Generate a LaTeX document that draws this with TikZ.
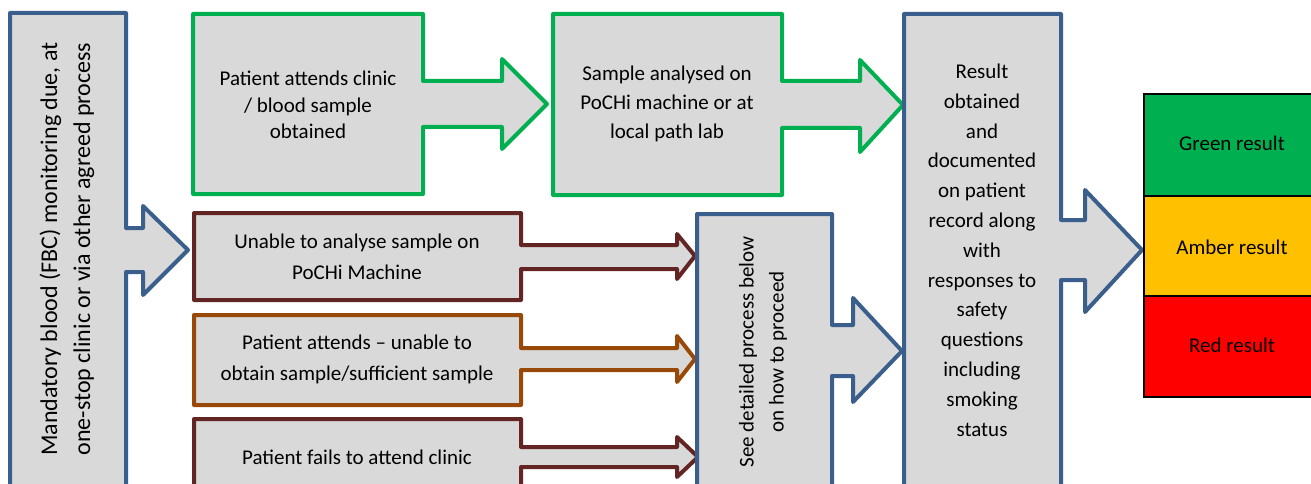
\documentclass[tikz,border=0pt]{standalone}
\usepackage{fontspec}
\setmainfont{Carlito}
\definecolor{bblue}{HTML}{3B5F8C}
\definecolor{bgreen}{HTML}{00B050}
\definecolor{bbrown}{HTML}{632523}
\definecolor{borange}{HTML}{984807}
\definecolor{boxgray}{HTML}{D9D9D9}
\definecolor{resgreen}{HTML}{00B050}
\definecolor{resamber}{HTML}{FFC000}
\definecolor{resred}{HTML}{FF0000}
\tikzset{
  callout/.style={line width=4pt, line join=round, fill=boxgray},
  txt/.style={align=center, text=black, inner sep=0pt},
  resbox/.style={draw=black, line width=2pt},
}
\begin{document}
\begin{tikzpicture}[x=1pt,y=-1pt]
\useasboundingbox (0,0) rectangle (1311,484);
\clip (0,0) rectangle (1311,484);
% left tall box
\draw[callout, draw=bblue] (10,13) -- (126,13) -- (126,228) -- (143,228) -- (143,206) -- (188,250) -- (143,295) -- (143,272) -- (126,272) -- (126,500) -- (10,500) -- cycle;
\node[txt, rotate=90, font=\fontsize{24}{33}\selectfont] (mand) at (67,249) {Mandatory blood (FBC) monitoring due, at\\one-stop clinic or via other agreed process};
% green box 1
\draw[callout, draw=bgreen] (193,14) -- (423,14) -- (423,81) -- (502,81) -- (502,59) -- (547,104) -- (502,149) -- (502,127) -- (423,127) -- (423,194) -- (193,194) -- cycle;
\node[txt, font=\fontsize{21}{26.5}\selectfont] (attend) at (308,105) {Patient attends clinic\\/ blood sample\\obtained};
% green box 2
\draw[callout, draw=bgreen] (553,14) -- (782,14) -- (782,81) -- (860,81) -- (860,60) -- (903,105) -- (860,152) -- (860,128) -- (782,128) -- (782,195) -- (553,195) -- cycle;
\node[txt, font=\fontsize{21}{29}\selectfont] (analysed) at (667,104) {Sample analysed on\\PoCHi machine or at\\local path lab};
% bottom box 1
\draw[callout, draw=bbrown] (194,213) -- (521,213) -- (521,245) -- (677,245) -- (677,234) -- (695,256) -- (677,279) -- (677,269) -- (521,269) -- (521,300) -- (194,300) -- cycle;
\node[txt, font=\fontsize{21}{31}\selectfont] (unable) at (357,256.5) {Unable to analyse sample on\\PoCHi Machine};
% bottom box 2
\draw[callout, draw=borange] (194,315) -- (521,315) -- (521,348) -- (677,348) -- (677,336) -- (695,359) -- (677,382) -- (677,370) -- (521,370) -- (521,405) -- (194,405) -- cycle;
\node[txt, font=\fontsize{21}{31}\selectfont] (nosample) at (357,359.5) {Patient attends -- unable to\\obtain sample/sufficient sample};
% bottom box 3
\draw[callout, draw=bbrown] (194,419) -- (521,419) -- (521,447) -- (677,447) -- (677,437) -- (698,457) -- (677,477) -- (677,467) -- (521,467) -- (521,500) -- (194,500) -- cycle;
\node[txt, font=\fontsize{21}{31}\selectfont] (fails) at (357,457) {Patient fails to attend clinic};
% see detailed box
\draw[callout, draw=bblue] (697,214) -- (832,214) -- (832,325) -- (853,325) -- (853,298) -- (902,351) -- (853,402) -- (853,376) -- (832,376) -- (832,500) -- (697,500) -- cycle;
\node[txt, rotate=90, font=\fontsize{21}{30}\selectfont] (detail) at (763,352) {See detailed process below\\on how to proceed};
% result box
\draw[callout, draw=bblue] (904,14) -- (1061,14) -- (1061,220) -- (1085,220) -- (1085,190) -- (1142,250) -- (1085,312) -- (1085,280) -- (1061,280) -- (1061,500) -- (904,500) -- cycle;
\node[txt, font=\fontsize{21}{29.8}\selectfont] (result) at (982,250) {Result\\obtained\\and\\documented\\on patient\\record along\\with\\responses to\\safety\\questions\\including\\smoking\\status};
% traffic light boxes
\draw[resbox, fill=resgreen] (1144,94) rectangle (1320,196);
\draw[resbox, fill=resamber] (1144,196) rectangle (1320,296);
\draw[resbox, fill=resred] (1144,296) rectangle (1320,397);
\node[txt, font=\fontsize{21}{26}\selectfont] (green) at (1232,143) {Green result};
\node[txt, font=\fontsize{21}{26}\selectfont] (amber) at (1232,247) {Amber result};
\node[txt, font=\fontsize{21}{26}\selectfont] (red) at (1232,345) {Red result};
\end{tikzpicture}
\end{document}
